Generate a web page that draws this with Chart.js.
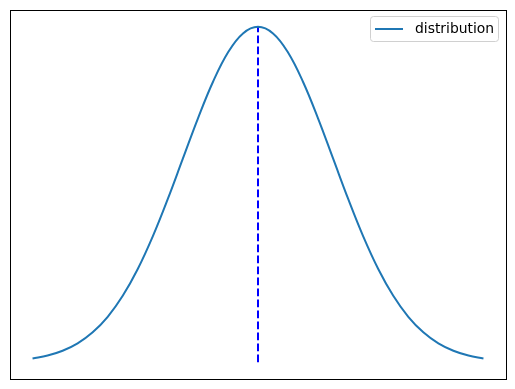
<!DOCTYPE html>
<html>
<head>
<meta charset="utf-8">
<script src="https://cdn.jsdelivr.net/npm/chart.js@4"></script>
<style>
  body { margin: 0; background: #fff; }
  canvas { display: block; }
</style>
</head>
<body>
<canvas id="grafDist" width="515" height="389"></canvas>
<script>
// x values (in sigma units) and the density
const xVals = [-3.0, -2.8, -2.6, -2.4, -2.2, -2.0, -1.8, -1.6, -1.4, -1.2, -1.0,
               -0.8, -0.6, -0.4, -0.2, 0.0, 0.2, 0.4, 0.6, 0.8, 1.0,
               1.2, 1.4, 1.6, 1.8, 2.0, 2.2, 2.4, 2.6, 2.8, 3.0]
const yVals = [0.0044, 0.0079, 0.0136, 0.0224, 0.0355, 0.0540, 0.0790, 0.1109, 0.1497, 0.1942, 0.2420,
               0.2897, 0.3332, 0.3683, 0.3910, 0.3989, 0.3910, 0.3683, 0.3332, 0.2897, 0.2420,
               0.1942, 0.1497, 0.1109, 0.0790, 0.0540, 0.0355, 0.0224, 0.0136, 0.0079, 0.0044]
// mean line
const meanX = [0, 0]
const meanY = [0, 0.3989]

const legendLabel = 'distribution'

const grafDist = document.getElementById('grafDist')

const framePlugin = {
    id: 'frame',
    afterDraw(chart) {
        const ctx = chart.ctx
        const a = chart.chartArea
        ctx.save()
        ctx.strokeStyle = '#000000'
        ctx.lineWidth = 1
        ctx.strokeRect(Math.round(a.left) + 0.5, Math.round(a.top) + 0.5,
                       Math.round(a.right - a.left), Math.round(a.bottom - a.top))

        // legend box, upper right
        const bx = 370.5, by = 16.5, bw = 128, bh = 25, r = 3
        ctx.fillStyle = 'rgba(255,255,255,0.8)'
        ctx.strokeStyle = '#d0d0d0'
        ctx.beginPath()
        ctx.roundRect(bx, by, bw, bh, r)
        ctx.fill()
        ctx.stroke()

        ctx.strokeStyle = '#1f77b4'
        ctx.lineWidth = 2
        ctx.beginPath()
        ctx.moveTo(375, 29)
        ctx.lineTo(403, 29)
        ctx.stroke()

        ctx.fillStyle = '#000000'
        ctx.font = '13.9px "DejaVu Sans"'
        ctx.textBaseline = 'middle'
        ctx.fillText(legendLabel, 415, 29.5)
        ctx.restore()
    }
}

new Chart(grafDist, {
    type: 'scatter',
    data: {
        datasets: [{
            label: legendLabel,
            data: xVals.map((x, i) => ({ x: x, y: yVals[i] })),
            showLine: true,
            borderColor: '#1f77b4',
            borderWidth: 2,
            pointRadius: 0,
            tension: 0.4
        }, {
            label: 'mean',
            data: meanX.map((x, i) => ({ x: x, y: meanY[i] })),
            showLine: true,
            borderColor: '#0000ff',
            borderWidth: 2,
            borderDash: [7.7, 3.3],
            pointRadius: 0
        }]
    },
    options: {
        responsive: false,
        animation: false,
        devicePixelRatio: 1,
        layout: { padding: { left: 10, top: 10, right: 9, bottom: 10 } },
        scales: {
            x: { display: false, min: -3.3, max: 3.3 },
            y: { display: false, min: -0.01995, max: 0.41885 }
        },
        plugins: {
            legend: { display: false },
            tooltip: { enabled: false }
        }
    },
    plugins: [framePlugin]
})
</script>
</body>
</html>
